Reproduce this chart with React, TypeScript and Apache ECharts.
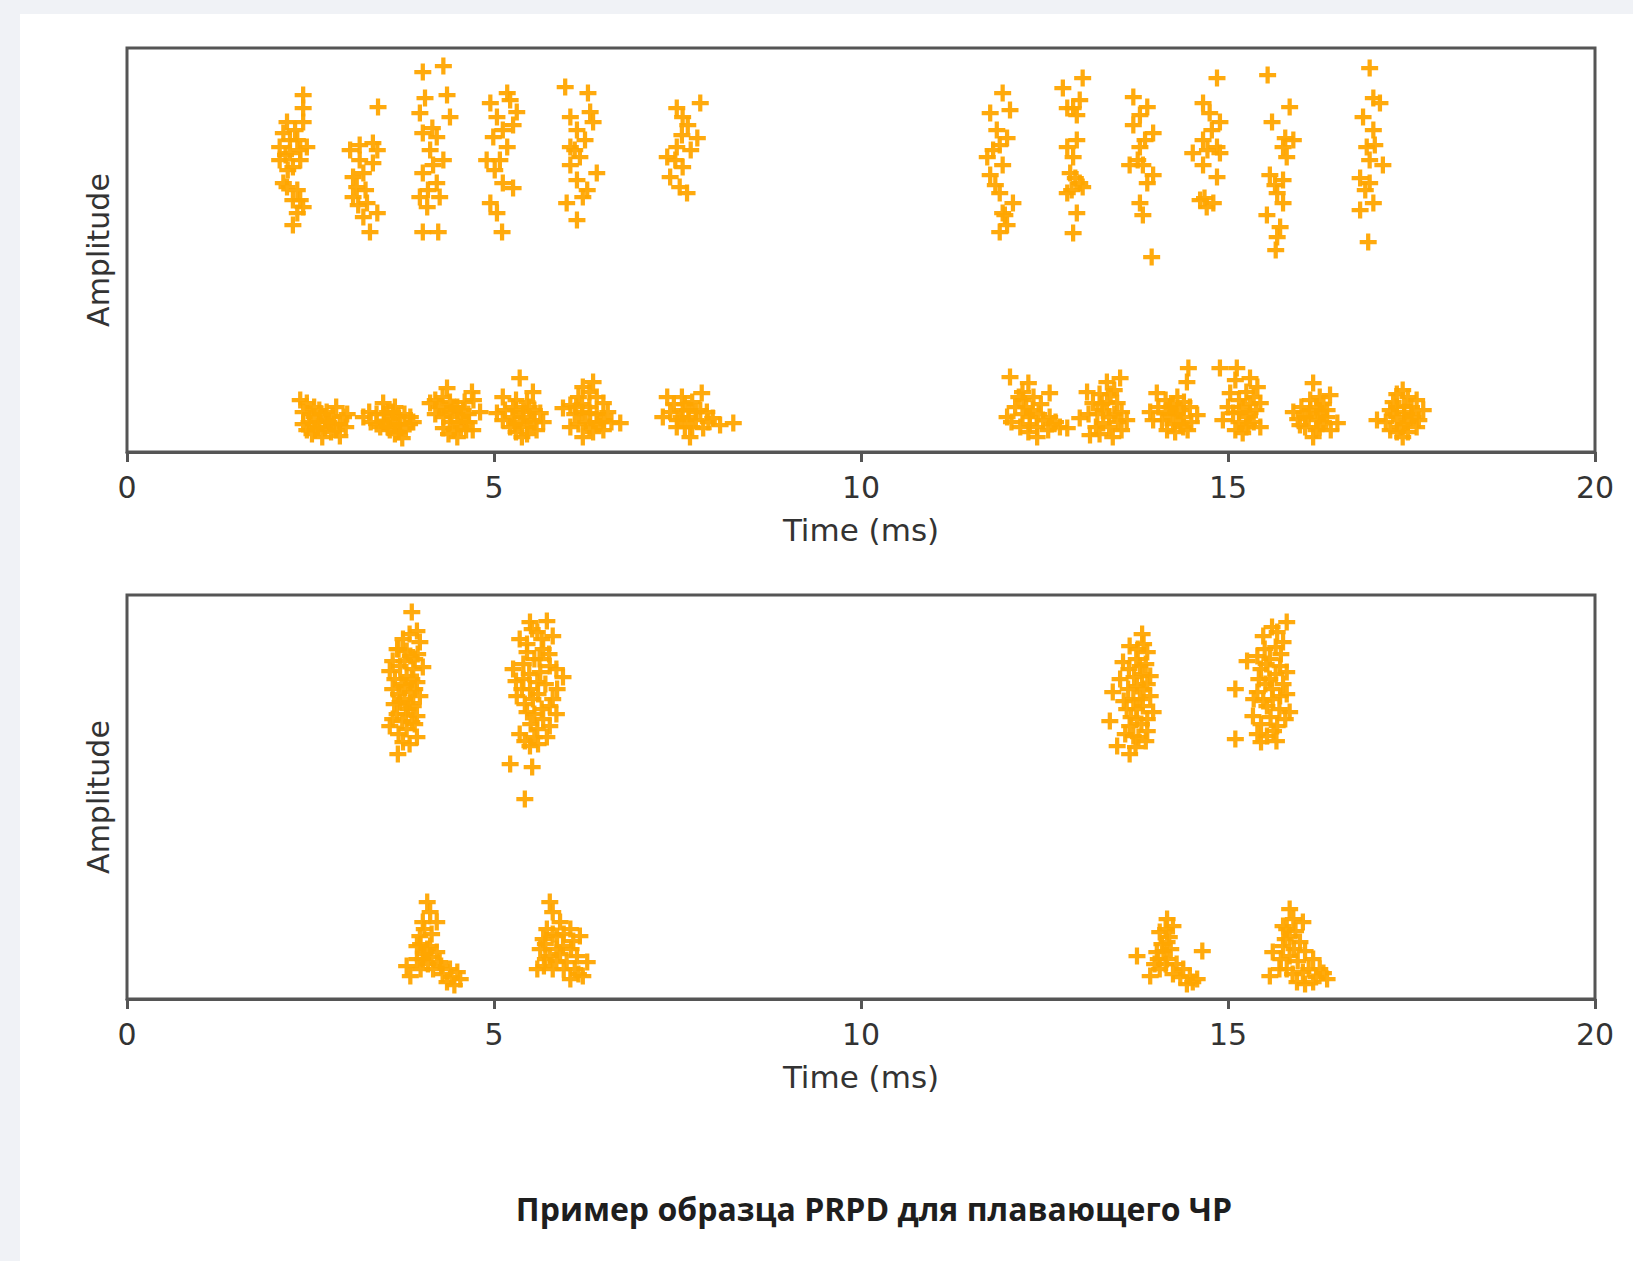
import React, { useEffect, useRef } from "react";
import * as echarts from "echarts";

const xTickValues = [0, 5, 10, 15, 20];
const chartTitle = "Пример образца PRPD для плавающего ЧР";
const xAxisName = "Time (ms)";
const yAxisName = "Amplitude";

// Top panel, upper bands (time ms, amplitude a.u.)
const topUpper: number[][] = [
  [2.40,357],[2.40,344],[2.40,330],[2.18,330],[2.13,319],[2.32,312],[2.45,305],[2.08,305],[2.22,299],[2.08,292],[2.36,292],[2.26,285],[2.18,265],[2.32,262],[2.26,252],[2.40,245],[2.32,239],[2.26,227],[2.22,312],[2.36,302],[2.16,297],[2.29,322],[2.13,269],[2.36,252],[2.19,282],
  [3.42,345],[3.04,302],[3.35,309],[3.41,302],[3.17,292],[3.35,289],[3.08,275],[3.22,279],[3.13,265],[3.08,255],[3.27,249],[3.41,239],[3.22,235],[3.31,220],[3.17,307],[3.25,262],[3.15,247],
  [4.03,380],[4.31,386],[4.06,354],[4.36,357],[3.99,339],[4.40,335],[4.03,319],[4.22,315],[4.13,302],[4.31,292],[4.03,279],[4.22,269],[3.99,255],[4.26,255],[4.09,245],[4.03,220],[4.24,220],[4.16,324],[4.10,262],[4.17,287],
  [5.18,359],[4.95,349],[5.31,340],[5.04,335],[5.26,327],[4.99,315],[5.18,305],[4.90,292],[5.08,292],[5.12,269],[5.26,264],[4.95,249],[5.04,239],[5.11,220],[5.12,322],[5.01,282],[5.22,352],
  [5.97,365],[6.28,359],[6.31,340],[6.04,335],[6.35,330],[6.13,322],[6.04,305],[6.17,295],[6.04,287],[6.40,279],[6.13,272],[6.27,262],[5.99,249],[6.21,255],[6.13,232],[6.10,302],[6.24,312],
  [7.81,349],[7.49,344],[7.57,335],[7.77,314],[7.49,305],[7.36,295],[7.57,285],[7.40,275],[7.53,265],[7.63,259],[7.64,327],[7.47,292],[7.68,302],[7.56,317],
  [11.93,359],[12.03,342],[11.76,339],[11.85,322],[11.99,314],[11.72,295],[11.93,287],[11.76,277],[11.89,259],[12.07,249],[11.93,239],[11.99,227],[11.89,220],[11.80,302],[11.89,307],[11.83,267],[11.96,237],
  [13.02,374],[12.75,364],[12.98,352],[12.81,344],[12.94,337],[12.94,312],[12.81,305],[12.89,295],[12.85,279],[12.98,269],[12.81,259],[12.94,239],[12.89,219],[13.02,265],[12.92,274],[12.87,262],[12.89,344],
  [13.71,355],[13.90,345],[13.71,327],[13.98,319],[13.80,305],[13.66,287],[13.84,287],[13.98,277],[13.90,269],[13.80,249],[13.84,237],[13.96,195],[13.80,337],[13.77,292],[13.87,312],
  [14.85,374],[14.66,349],[14.75,339],[14.89,330],[14.66,312],[14.85,305],[14.52,299],[14.89,299],[14.66,287],[14.85,275],[14.62,252],[14.80,249],[14.71,245],[14.72,302],[14.68,254],[14.78,322],
  [15.54,377],[15.84,345],[15.60,330],[15.89,312],[15.75,305],[15.80,295],[15.57,277],[15.75,272],[15.67,259],[15.75,249],[15.53,237],[15.71,225],[15.67,215],[15.65,202],[15.78,314],[15.64,267],
  [16.93,384],[16.98,354],[17.07,349],[16.84,335],[16.98,322],[16.89,305],[17.11,287],[16.80,274],[16.93,269],[16.98,249],[16.80,242],[16.91,210],[16.93,292],[17.00,307],[16.87,262],
];

// Top panel, lower bands
const topLower: number[][] = [
  [2.36,52],[2.45,49],[2.55,45],[2.40,40],[2.50,38],[2.62,42],[2.72,40],[2.80,36],[2.95,35],[2.98,25],[2.90,28],[2.62,30],[2.48,30],[2.56,22],[2.70,24],[2.78,20],[2.66,15],[2.90,16],[3.00,38],[2.52,18],[2.85,45],[2.40,28],
  [2.55,35],[2.70,32],[2.82,28],[2.60,25],[2.75,30],[2.45,22],[2.85,22],[2.65,38],
  [3.22,35],[3.30,40],[3.40,38],[3.49,49],[3.55,40],[3.65,45],[3.70,36],[3.78,38],[3.86,35],[3.90,30],[3.40,28],[3.50,30],[3.58,22],[3.65,28],[3.75,14],[3.80,24],[3.70,20],[3.45,25],[3.60,33],[3.32,30],
  [3.50,38],[3.62,40],[3.72,28],[3.55,25],[3.85,28],[3.65,18],
  [4.36,64],[4.30,55],[4.20,52],[4.13,49],[4.25,45],[4.40,50],[4.50,45],[4.60,50],[4.70,60],[4.72,52],[4.81,40],[4.65,38],[4.55,35],[4.31,35],[4.40,30],[4.20,38],[4.31,24],[4.45,22],[4.55,25],[4.71,22],[4.50,15],[4.60,30],[4.42,40],
  [4.45,45],[4.35,42],[4.58,42],[4.62,22],[4.50,30],[4.38,18],[4.66,30],
  [5.35,74],[5.53,60],[5.12,55],[5.30,52],[5.45,50],[5.04,39],[5.15,42],[5.26,45],[5.40,40],[5.55,42],[5.63,39],[5.67,30],[5.50,32],[5.35,30],[5.22,25],[5.45,25],[5.38,15],[5.30,20],[5.12,32],[5.58,22],[5.40,35],
  [5.25,35],[5.48,45],[5.55,30],[5.30,42],[5.45,18],[5.28,28],
  [6.35,70],[6.21,65],[6.30,60],[6.15,55],[6.40,55],[6.04,47],[5.94,44],[6.20,48],[6.49,49],[6.55,40],[6.31,39],[6.10,38],[6.72,29],[6.60,30],[6.45,30],[6.25,30],[6.04,25],[6.21,15],[6.35,20],[6.49,22],[6.15,28],
  [6.30,45],[6.40,38],[6.20,40],[6.30,25],[6.40,28],[6.50,32],[6.12,45],
  [7.36,55],[7.56,55],[7.83,59],[7.45,48],[7.70,50],[7.30,35],[7.40,40],[7.57,42],[7.81,42],[7.65,35],[7.98,34],[8.26,29],[8.08,27],[7.49,25],[7.67,15],[7.60,25],[7.85,24],[7.75,32],[7.50,32],[7.90,40],
  [7.65,42],[7.55,35],[7.75,40],[7.70,25],[7.60,48],[7.92,30],
  [12.03,75],[12.28,69],[12.20,60],[12.57,59],[12.35,55],[12.21,52],[12.45,48],[12.10,45],[12.34,42],[11.99,35],[12.20,38],[12.57,35],[12.48,32],[12.17,25],[12.30,28],[12.40,15],[12.55,22],[12.71,25],[12.81,24],[12.65,30],[12.05,30],
  [12.30,35],[12.42,38],[12.25,45],[12.40,25],[12.60,28],[12.15,55],[12.28,20],
  [13.53,74],[13.35,70],[13.45,62],[13.08,60],[13.25,58],[13.16,49],[13.35,50],[13.49,49],[13.30,42],[12.98,34],[13.10,38],[13.45,38],[13.62,32],[13.55,40],[13.30,29],[13.12,17],[13.20,25],[13.43,15],[13.55,22],[13.38,25],
  [13.28,48],[13.38,35],[13.22,38],[13.50,30],[13.25,18],[13.40,58],
  [14.46,84],[14.44,70],[14.03,59],[14.31,55],[14.15,52],[14.40,50],[13.94,40],[14.05,45],[14.21,45],[14.48,45],[14.58,37],[14.30,38],[14.10,32],[14.17,22],[14.39,25],[14.25,28],[14.50,30],[14.35,42],[13.98,32],[14.28,20],
  [14.20,38],[14.40,35],[14.25,48],[14.15,40],[14.35,28],[14.45,22],
  [14.89,84],[15.12,84],[15.30,74],[15.10,72],[15.40,65],[15.03,59],[15.25,60],[15.15,52],[15.44,49],[15.30,48],[15.07,39],[15.30,39],[14.93,32],[15.15,30],[15.44,25],[15.20,19],[15.35,30],[15.00,45],[15.25,25],[15.10,22],
  [15.20,45],[15.25,35],[15.35,55],[15.15,40],[15.38,42],[15.28,28],
  [16.16,69],[16.39,57],[16.25,55],[16.12,52],[16.00,45],[15.89,40],[16.25,39],[16.35,42],[16.10,35],[16.49,29],[16.30,30],[15.98,27],[16.16,15],[16.20,22],[16.05,25],[16.40,22],[16.20,45],[15.95,33],
  [16.22,32],[16.12,42],[16.30,48],[16.05,35],[16.35,35],[16.25,25],
  [17.38,62],[17.30,58],[17.45,55],[17.57,52],[17.25,50],[17.40,46],[17.66,42],[17.21,42],[17.50,38],[17.30,35],[17.03,32],[17.15,30],[17.45,30],[17.21,22],[17.38,15],[17.57,25],[17.35,25],[17.60,32],[17.45,20],
  [17.40,40],[17.30,45],[17.50,45],[17.25,38],[17.40,28],[17.30,20],[17.52,35],
];

// Bottom panel, upper bands
const bottomUpper: number[][] = [
  [3.88,387],[3.95,368],[3.76,360],[3.99,357],[3.86,343],[3.62,338],[4.03,332],[3.58,328],[3.81,323],[3.95,317],[3.62,310],[3.86,307],[3.99,303],[3.72,297],[3.90,293],[3.68,285],[3.95,283],[3.58,273],[3.81,270],[3.95,262],[3.76,257],[3.69,245],[3.81,348],[3.72,333],[3.90,330],[3.79,313],[3.83,290],[3.75,278],[3.88,277],
  [3.70,350],[3.85,365],[3.92,340],[3.65,320],[3.78,338],[3.92,310],[3.70,305],[3.85,296],[3.64,295],[3.78,300],[3.92,275],[3.70,265],[3.85,255],[3.62,280],[3.80,285],[3.74,315],[3.88,320],[3.96,345],[3.68,350],
  [5.49,377],[5.72,378],[5.35,360],[5.80,363],[5.59,367],[5.45,347],[5.67,350],[5.26,330],[5.76,333],[5.94,322],[5.40,320],[5.59,317],[5.86,310],[5.31,303],[5.53,300],[5.76,293],[5.45,287],[5.67,280],[5.35,265],[5.59,270],[5.76,273],[5.49,253],[5.22,235],[5.52,232],[5.42,200],[5.63,327],[5.49,310],[5.40,335],
  [5.52,370],[5.65,360],[5.45,355],[5.75,345],[5.55,340],[5.85,330],[5.48,325],[5.70,315],[5.38,310],[5.60,305],[5.80,300],[5.42,295],[5.65,290],[5.55,285],[5.85,285],[5.50,275],[5.72,262],[5.42,258],[5.60,255],[5.55,262],[5.62,340],[5.30,318],
  [13.83,365],[13.66,353],[13.90,347],[13.57,337],[13.80,333],[13.94,323],[13.53,320],[13.76,313],[13.94,303],[13.43,307],[13.71,300],[13.84,293],[13.62,290],[13.98,287],[13.76,280],[13.39,278],[13.90,268],[13.71,263],[13.49,253],[13.66,245],[13.83,325],[13.77,350],[13.66,273],
  [13.85,355],[13.75,340],[13.88,335],[13.65,330],[13.72,322],[13.85,310],[13.64,310],[13.90,315],[13.80,300],[13.58,298],[13.75,290],[13.90,280],[13.68,282],[13.82,275],[13.78,262],[13.60,265],[13.88,258],[13.74,252],
  [15.80,377],[15.67,367],[15.48,363],[15.75,357],[15.40,343],[15.57,340],[15.26,338],[15.80,327],[15.57,320],[15.10,310],[15.40,307],[15.71,303],[15.53,293],[15.84,287],[15.34,283],[15.67,273],[15.53,263],[15.10,260],[15.45,257],[15.61,300],[15.71,333],[15.51,315],
  [15.60,372],[15.72,345],[15.50,350],[15.65,352],[15.45,330],[15.65,325],[15.52,335],[15.75,315],[15.42,320],[15.60,310],[15.80,305],[15.35,300],[15.48,298],[15.70,290],[15.58,282],[15.45,275],[15.78,280],[15.62,268],[15.40,265],[15.66,258],
];

// Bottom panel, lower bands
const bottomLower: number[][] = [
  [4.09,97],[4.13,87],[4.03,77],[4.22,77],[3.99,63],[3.95,53],[4.13,53],[4.22,47],[3.81,33],[4.03,40],[3.86,23],[4.26,37],[4.40,30],[4.50,27],[4.36,17],[4.54,20],[4.17,30],[4.09,50],
  [4.05,70],[4.15,65],[4.00,55],[4.05,45],[4.15,42],[3.95,40],[4.10,35],[4.00,30],[4.30,25],[4.42,22],[4.46,14],[4.28,33],
  [5.76,97],[5.80,87],[5.90,77],[5.72,70],[6.04,70],[5.86,63],[6.17,63],[5.63,50],[5.94,53],[5.76,43],[6.13,43],[5.59,30],[5.80,30],[6.27,37],[6.04,20],[6.21,23],[5.99,37],[5.67,60],
  [5.80,65],[5.95,65],[5.70,55],[5.85,50],[6.05,50],[5.90,45],[5.70,40],[5.95,30],[6.10,30],[5.85,38],[6.15,25],[5.68,33],[6.08,58],
  [14.17,80],[14.25,73],[14.07,67],[14.17,57],[14.03,47],[13.76,43],[14.17,40],[14.65,48],[14.07,30],[13.94,23],[14.39,30],[14.48,23],[14.58,20],[14.44,15],[14.12,48],
  [14.15,70],[14.20,62],[14.10,55],[14.22,50],[14.05,40],[14.15,35],[14.25,25],[14.35,22],[14.52,17],[14.30,35],[14.00,35],
  [15.84,90],[15.89,80],[15.75,73],[16.02,77],[15.84,63],[15.98,57],[15.61,47],[15.84,43],[16.16,40],[15.57,23],[15.80,30],[16.02,27],[16.25,30],[16.16,17],[15.94,17],[16.35,20],[15.75,53],
  [15.80,70],[15.92,68],[15.78,60],[15.90,50],[16.05,48],[15.72,40],[15.95,38],[16.10,30],[15.88,25],[16.20,22],[16.05,15],[15.70,30],[16.30,26],
];

const PLUS = "path://M6,0H10V6H16V10H10V16H6V10H0V6H6Z";

export default function App() {
  const ref = useRef<HTMLDivElement>(null);
  useEffect(() => {
    const chart = echarts.init(ref.current!, null, { renderer: "svg" });
    const axisColor = "#555555";
    const textColor = "#333333";
    const font = "DejaVu Sans";
    const xMin = xTickValues[0];
    const xMax = xTickValues[xTickValues.length - 1];
    const xStep = xTickValues[1] - xTickValues[0];
    const mkX = (gridIndex: number) => ({
      type: "value",
      gridIndex,
      min: xMin,
      max: xMax,
      interval: xStep,
      name: xAxisName,
      nameLocation: "middle",
      nameGap: 62,
      nameTextStyle: { fontFamily: font, fontSize: 31, color: textColor },
      axisLine: { show: true, onZero: false, lineStyle: { color: axisColor, width: 3 } },
      axisTick: { show: true, length: 10, lineStyle: { color: axisColor, width: 3 } },
      axisLabel: { margin: 20, fontFamily: font, fontSize: 30, color: textColor },
      splitLine: { show: false },
    });
    const mkY = (gridIndex: number) => ({
      type: "value",
      gridIndex,
      min: 0,
      max: 404,
      name: yAxisName,
      nameLocation: "middle",
      nameGap: 14,
      nameTextStyle: { fontFamily: font, fontSize: 30, color: textColor },
      axisLine: { show: false },
      axisTick: { show: false },
      axisLabel: { show: false },
      splitLine: { show: false },
    });
    const mkSeries = (data: number[][], idx: number) => ({
      type: "scatter",
      xAxisIndex: idx,
      yAxisIndex: idx,
      data,
      symbol: PLUS,
      symbolSize: 17,
      itemStyle: { color: "#FFA500", opacity: 0.95 },
      silent: true,
    });
    chart.setOption({
      animation: false,
      backgroundColor: "#f0f2f6",
      graphic: [
        {
          type: "rect",
          z: -100,
          shape: { x: 20, y: 14, width: 1613, height: 1247 },
          style: { fill: "#ffffff" },
        },
        {
          type: "text",
          x: 874,
          y: 1208,
          style: {
            text: chartTitle,
            fontFamily: "Open Sans",
            fontWeight: "bold",
            fontSize: 32,
            fill: "#1e1e1e",
            textAlign: "center",
            textVerticalAlign: "middle",
          },
        },
      ],
      grid: [
        { left: 127, top: 48, width: 1468, height: 404, show: true, borderColor: axisColor, borderWidth: 3, backgroundColor: "transparent" },
        { left: 127, top: 595, width: 1468, height: 404, show: true, borderColor: axisColor, borderWidth: 3, backgroundColor: "transparent" },
      ],
      xAxis: [mkX(0), mkX(1)],
      yAxis: [mkY(0), mkY(1)],
      series: [
        mkSeries(topUpper, 0),
        mkSeries(topLower, 0),
        mkSeries(bottomUpper, 1),
        mkSeries(bottomLower, 1),
      ],
    });
    return () => chart.dispose();
  }, []);
  return (
    <div
      ref={ref}
      style={{ position: "fixed", left: 0, top: 0, width: 1633, height: 1261 }}
    />
  );
}
